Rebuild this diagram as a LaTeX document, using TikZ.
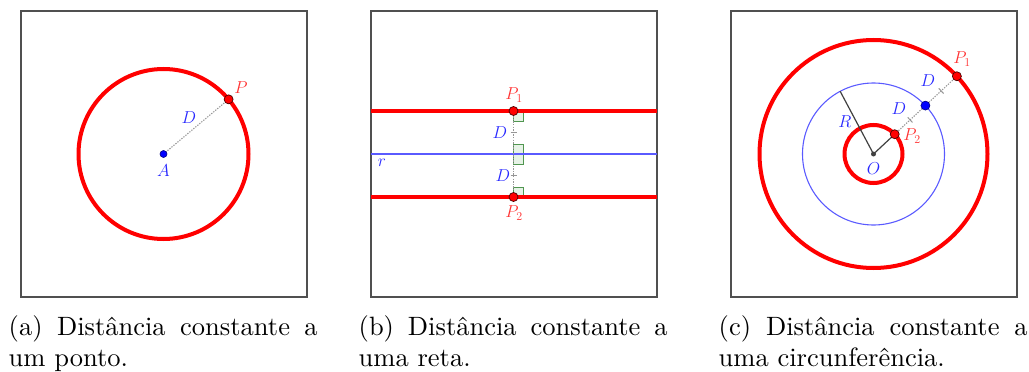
\documentclass[tikz,border=0pt]{standalone}
\usepackage{fontspec}
\newfontfamily\capfont{lmroman10-regular.otf}
\usetikzlibrary{calc}
\definecolor{framegray}{RGB}{80,80,80}
\definecolor{lblblue}{RGB}{40,40,255}
\definecolor{lblred}{RGB}{255,50,50}
\definecolor{lineblue}{RGB}{90,90,255}
\definecolor{dotgray}{RGB}{150,150,150}
\definecolor{segdark}{RGB}{64,64,64}
\definecolor{sqgreen}{RGB}{80,150,80}
\definecolor{sqfill}{RGB}{230,242,230}
\begin{document}
\begin{tikzpicture}[x=1pt,y=-1pt,
  framebox/.style={draw=framegray,line width=1.4pt},
  redcurve/.style={draw=red,line width=4pt},
  bluecurve/.style={draw=lineblue,line width=1.1pt},
  dotseg/.style={draw=dotgray,line width=1.1pt,dash pattern=on 1.3pt off 1.3pt},
  darkseg/.style={draw=segdark,line width=1.2pt},
  tickmk/.style={draw=dotgray,line width=1pt},
  rpt/.style={circle,fill=red,draw=black!70!red,line width=0.7pt,inner sep=0pt,minimum size=9pt},
  bpt/.style={circle,fill=blue,draw=black!50!blue,line width=0.6pt,inner sep=0pt,minimum size=#1},
  bpt/.default=9pt,
  opt/.style={circle,fill=segdark,inner sep=0pt,minimum size=5pt},
  lbl/.style={font=\fontsize{17.28}{20}\selectfont,inner sep=0pt},
  sqbox/.style={draw=sqgreen,fill=sqfill,line width=1pt},
  captxt/.style={font=\capfont\fontsize{26.5}{31}\selectfont,inner sep=0pt,anchor=base west}
]
\useasboundingbox (0,0) rectangle (1029,372);

% ---------------- (a)
\draw[framebox] (21,11) rectangle (307,297);
\coordinate (A) at (163.5,154);
\draw[redcurve] (A) circle[radius=85pt];
\coordinate (Pa) at ($(A)+(-40:85)$);
\draw[dotseg] (A) -- (Pa);
\node[bpt=7pt] (Apt) at (A) {};
\node[rpt] (Ppt) at (Pa) {};
\node[lbl,text=lblred] (Plbl) at (241,88) {$P$};
\node[lbl,text=lblblue] (Dlbl) at (189,118) {$D$};
\node[lbl,text=lblblue] (Albl) at (163.5,171) {$A$};

% ---------------- (b)
\draw[framebox] (371,11) rectangle (657,297);
\coordinate (L1) at (371,111); \coordinate (R1) at (657,111);
\coordinate (L2) at (371,197); \coordinate (R2) at (657,197);
\coordinate (Lr) at (371,154); \coordinate (Rr) at (657,154);
\coordinate (P1b) at (513.5,111);
\coordinate (P2b) at (513.5,197);
\coordinate (Mb) at (513.5,154);
\draw[sqbox] (513.5,111) rectangle (523.5,121);
\draw[sqbox] (513.5,144) rectangle (523.5,154);
\draw[sqbox] (513.5,154) rectangle (523.5,164);
\draw[sqbox] (513.5,187) rectangle (523.5,197);
\draw[bluecurve] (Lr) -- (Rr);
\draw[redcurve] (L1) -- (R1);
\draw[redcurve] (L2) -- (R2);
\draw[dotseg] (P1b) -- (P2b);
\draw[tickmk] ($($(P1b)!0.5!(Mb)$)+(-3,0)$) -- ++(6,0);
\draw[tickmk] ($($(Mb)!0.5!(P2b)$)+(-3,0)$) -- ++(6,0);
\node[rpt] (P1bpt) at (P1b) {};
\node[rpt] (P2bpt) at (P2b) {};
\node[lbl,text=lblred] (P1blbl) at (514,95) {$P_1$};
\node[lbl,text=lblred] (P2blbl) at (514,213) {$P_2$};
\node[lbl,text=lblblue] (D1blbl) at (500,133) {$D$};
\node[lbl,text=lblblue] (D2blbl) at (503,176) {$D$};
\node[lbl,text=lblblue] (rlbl) at (382,163) {$r$};

% ---------------- (c)
\draw[framebox] (731,11) rectangle (1017,297);
\coordinate (O) at (873.5,154);
\draw[redcurve] (O) circle[radius=114pt];
\draw[bluecurve] (O) circle[radius=71pt];
\draw[redcurve] (O) circle[radius=29pt];
\coordinate (P2c) at ($(O)+(-43:29)$);
\coordinate (Bc) at ($(O)+(-43:71)$);
\coordinate (P1c) at ($(O)+(-43:114)$);
\coordinate (Rc) at ($(O)+(-118:71)$);
\draw[darkseg] (O) -- (Rc);
\draw[darkseg] (O) -- (P2c);
\draw[dotseg] (P2c) -- (P1c);
\draw[tickmk] ($($(P2c)!0.5!(Bc)$)!3.5pt!90:(Bc)$) -- ($($(P2c)!0.5!(Bc)$)!3.5pt!-90:(Bc)$);
\draw[tickmk] ($($(Bc)!0.5!(P1c)$)!3.5pt!90:(P1c)$) -- ($($(Bc)!0.5!(P1c)$)!3.5pt!-90:(P1c)$);
\node[opt] (Opt) at (O) {};
\node[rpt] (P2cpt) at (P2c) {};
\node[bpt] (Bcpt) at (Bc) {};
\node[rpt] (P1cpt) at (P1c) {};
\node[lbl,text=lblblue] (Rlbl) at (845,122) {$R$};
\node[lbl,text=lblblue] (Olbl) at (873.5,169) {$O$};
\node[lbl,text=lblred] (P2clbl) at (912,136) {$P_2$};
\node[lbl,text=lblblue] (D1clbl) at (899,109) {$D$};
\node[lbl,text=lblblue] (D2clbl) at (928,81) {$D$};
\node[lbl,text=lblred] (P1clbl) at (962,59) {$P_1$};

% ---------------- captions
\node[captxt] (capa1) at (8.5,335) {\makebox[309pt][s]{(a) Distância constante a}};
\node[captxt] (capa2) at (8.5,366) {um ponto.};
\node[captxt] (capb1) at (358.5,335) {\makebox[309pt][s]{(b) Distância constante a}};
\node[captxt] (capb2) at (358.5,366) {uma reta.};
\node[captxt] (capc1) at (718.5,335) {\makebox[309pt][s]{(c) Distância constante a}};
\node[captxt] (capc2) at (718.5,366) {uma circunferência.};
\end{tikzpicture}
\end{document}
